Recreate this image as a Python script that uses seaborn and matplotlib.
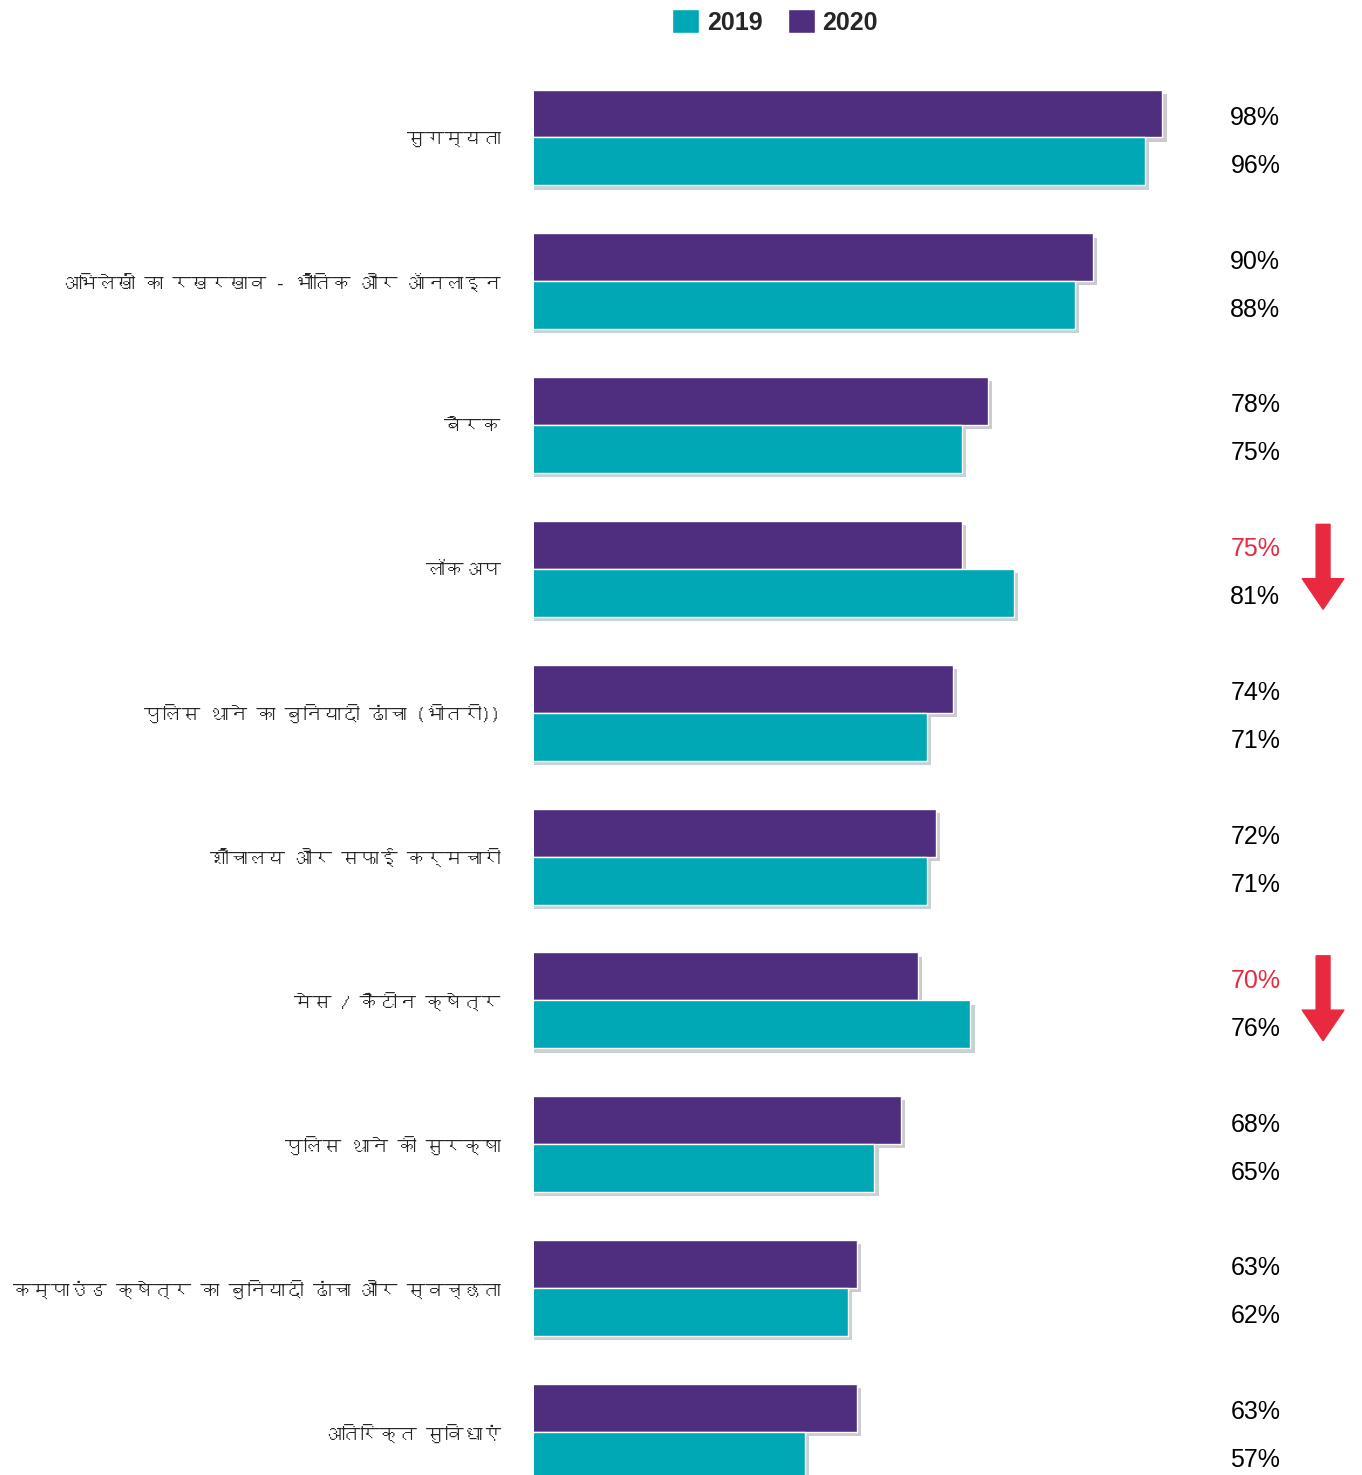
import pandas as pd
import matplotlib
matplotlib.use('Agg')
import matplotlib.pyplot as plt
import matplotlib.patheffects as pe
from matplotlib.patches import Patch
from matplotlib import font_manager
from matplotlib.ft2font import FT2Font
import seaborn as sns

# data
categories = [
    'सुगम्यता',
    'अभिलेखों का रखरखाव - भौतिक और ऑनलाइन',
    'बैरक',
    'लॉकअप',
    'पुलिस थाने का बुनियादी ढांचा (भीतरी))',
    'शौचालय और सफाई कर्मचारी',
    'मेस / कैंटीन क्षेत्र',
    'पुलिस थाने की सुरक्षा',
    'कम्पाउंड क्षेत्र का बुनियादी ढांचा और स्वच्छता',
    'अतिरिक्त सुविधाएं',
]
values_2020 = [98, 90, 78, 75, 74, 72, 70, 68, 63, 63]
values_2019 = [96, 88, 75, 81, 71, 71, 76, 65, 62, 57]
decline = [False, False, False, True, False, False, True, False, False, False]

PURPLE = '#4F2D7F'
TEAL = '#00A8B5'
RED = '#E8293F'

sns.set_style('white')


# look for any installed font that covers Devanagari
def find_font(cp):
    for f in font_manager.fontManager.ttflist:
        try:
            if cp in FT2Font(f.fname).get_charmap():
                return f.name
        except Exception:
            pass
    return None


deva = find_font(0x0915)
label_family = [deva, 'DejaVu Sans'] if deva else ['DejaVu Sans']
plt.rcParams['font.family'] = ['Liberation Sans', 'DejaVu Sans']

df = pd.DataFrame({
    'category': categories * 2,
    'value': values_2020 + values_2019,
    'year': ['2020'] * len(categories) + ['2019'] * len(categories),
})

fig = plt.figure(figsize=(13.62, 14.75), dpi=100)
ax = fig.add_axes([534 / 1362, 0, (1200 - 534) / 1362, 1])

sns.barplot(data=df, y='category', x='value', hue='year', hue_order=['2020', '2019'],
            palette={'2020': PURPLE, '2019': TEAL}, width=0.667, orient='h',
            legend=False, ax=ax, saturation=1)

for p in ax.patches:
    p.set_path_effects([pe.SimplePatchShadow(offset=(3, -3), alpha=0.22),
                        pe.Normal()])

ax.set_xlim(26, 102.3)
ax.set_ylim(9.30, -0.956)
ax.set_xlabel('')
ax.set_ylabel('')
ax.set_xticks([])
for s in ax.spines.values():
    s.set_visible(False)
ax.tick_params(axis='y', length=0, pad=24)
for t in ax.get_yticklabels():
    t.set_fontfamily(label_family)
    t.set_fontsize(13.5)

off = 0.667 / 4
for i, (a, b) in enumerate(zip(values_2020, values_2019)):
    ax.text(111.5, i - off + 0.03, f'{a}%', ha='right', va='center', fontsize=18,
            color=RED if decline[i] else 'black')
    ax.text(111.5, i + off + 0.03, f'{b}%', ha='right', va='center', fontsize=18,
            color='black')
    if decline[i]:
        ax.annotate('', xy=(116.4, i + 0.28), xytext=(116.4, i - 0.31),
                    annotation_clip=False,
                    arrowprops=dict(arrowstyle='simple,head_length=2.2,head_width=3.0,tail_width=1.0',
                                    mutation_scale=10, color=RED, shrinkA=0, shrinkB=0))

handles = [Patch(facecolor=TEAL, label='2019'), Patch(facecolor=PURPLE, label='2020')]
fig.legend(handles=handles, loc='upper center', bbox_to_anchor=(0.569, 1.009), ncol=2,
           frameon=False, prop={'weight': 'bold', 'size': 18}, handlelength=1.1,
           handleheight=1.1, handletextpad=0.3, columnspacing=1.0)

fig.savefig('out.png', dpi=100)
